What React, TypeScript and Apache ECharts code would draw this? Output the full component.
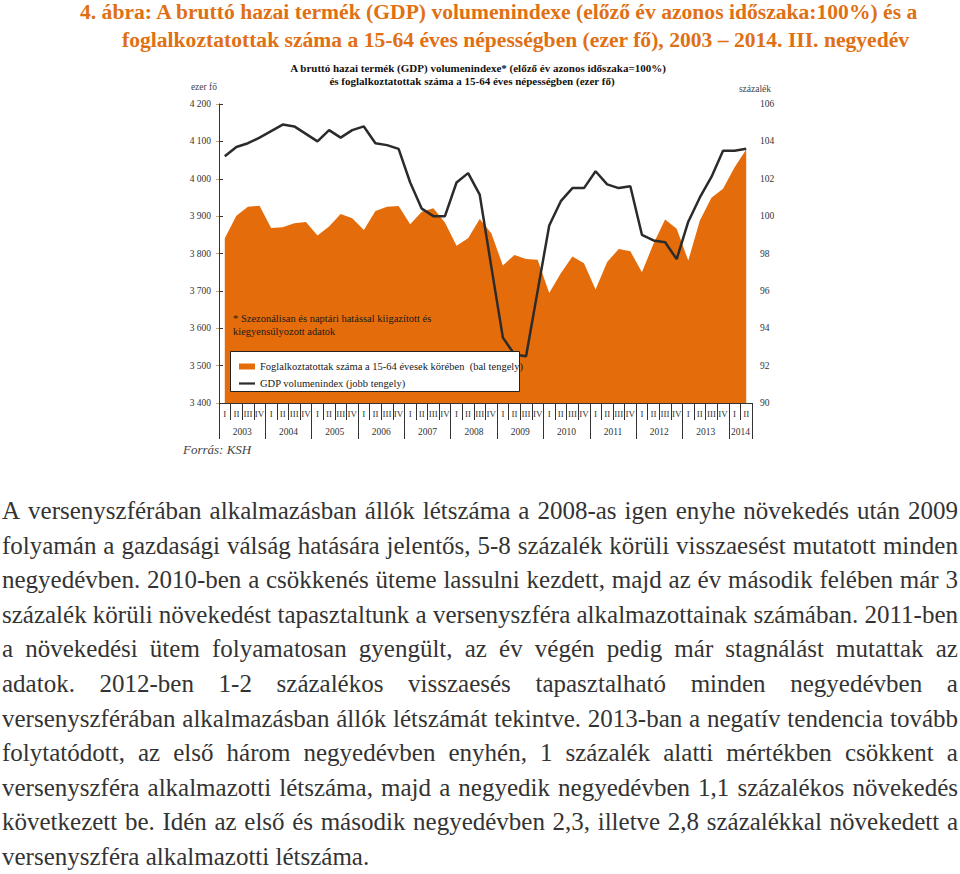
import React, { useEffect, useRef } from "react";
import * as echarts from "echarts";

document.body.style.margin = "0";

const years = ["2003", "2004", "2005", "2006", "2007", "2008", "2009", "2010", "2011", "2012", "2013", "2014"];
const quarterNames = ["I", "II", "III", "IV"];

// Foglalkoztatottak száma a 15-64 évesek körében (ezer fő), 2003 I – 2014 II
const employment = [
  3841, 3901, 3925, 3928,
  3868, 3870, 3881, 3884,
  3848, 3872, 3906, 3894,
  3863, 3914, 3925, 3927,
  3878, 3912, 3921, 3883,
  3821, 3841, 3892, 3854,
  3768, 3796, 3785, 3783,
  3694, 3747, 3792, 3774,
  3704, 3777, 3812, 3806,
  3750, 3826, 3891, 3866,
  3781, 3888, 3949, 3973,
  4031, 4078,
];

// GDP volumenindex (előző év azonos időszaka = 100%)
const gdp = [
  103.2, 103.7, 103.9, 104.2,
  104.55, 104.9, 104.8, 104.4,
  104.0, 104.6, 104.2, 104.6,
  104.8, 103.9, 103.8, 103.6,
  101.8, 100.4, 100.0, 100.0,
  101.8, 102.3, 101.15, 97.3,
  93.5, 92.6, 92.5, 96.0,
  99.5, 100.8, 101.5, 101.5,
  102.4, 101.7, 101.5, 101.6,
  99.0, 98.7, 98.6, 97.7,
  99.7, 101.0, 102.1, 103.5,
  103.5, 103.6,
];

const leftAxisRange = [3400, 4200, 100];
const rightAxisRange = [90, 106, 2];
const leftAxisName = "ezer fő";
const rightAxisName = "százalék";

const titleLines = [
  "4. ábra: A bruttó hazai termék (GDP) volumenindexe (előző év azonos időszaka:100%) és a",
  "foglalkoztatottak száma a 15-64 éves népességben (ezer fő), 2003 – 2014. III. negyedév",
];
const chartTitleLines = [
  "A bruttó hazai termék (GDP) volumenindexe* (előző év azonos időszaka=100%)",
  "és foglalkoztatottak száma a 15-64 éves népességben (ezer fő)",
];
const footnoteLines = [
  "* Szezonálisan és naptári hatással kiigazított és",
  "kiegyensúlyozott adatok",
];
const empName = "Foglalkoztatottak száma a 15-64 évesek körében  (bal tengely)";
const gdpName = "GDP volumenindex (jobb tengely)";
const sourceText = "Forrás: KSH";

const paragraphLines = [
  "A versenyszférában alkalmazásban állók létszáma a 2008-as igen enyhe növekedés után 2009",
  "folyamán a gazdasági válság hatására jelentős, 5-8 százalék körüli visszaesést mutatott minden",
  "negyedévben. 2010-ben a csökkenés üteme lassulni kezdett, majd az év második felében már 3",
  "százalék körüli növekedést tapasztaltunk a versenyszféra alkalmazottainak számában. 2011-ben",
  "a növekedési ütem folyamatosan gyengült, az év végén pedig már stagnálást mutattak az",
  "adatok. 2012-ben 1-2 százalékos visszaesés tapasztalható minden negyedévben a",
  "versenyszférában alkalmazásban állók létszámát tekintve. 2013-ban a negatív tendencia tovább",
  "folytatódott, az első három negyedévben enyhén, 1 százalék alatti mértékben csökkent a",
  "versenyszféra alkalmazotti létszáma, majd a negyedik negyedévben 1,1 százalékos növekedés",
  "következett be. Idén az első és második negyedévben 2,3, illetve 2,8 százalékkal növekedett a",
  "versenyszféra alkalmazotti létszáma.",
];

const ORANGE = "#E46C0A";
const TITLE_ORANGE = "#E07014";
const LINE = "#2b2b2b";
const SERIF = '"Liberation Serif", "Times New Roman", serif';

const n = employment.length;
const categories = Array.from({ length: n }, (_, i) => `${years[Math.floor(i / 4)]} ${quarterNames[i % 4]}`);
const quarterOfCat = (c: string) => c.split(" ")[1];
// centre of each year's span in quarter units
const yearCenters: Record<number, string> = {};
years.forEach((y, k) => {
  const count = Math.min(4, n - 4 * k);
  if (count > 0) yearCenters[4 * k + count / 2] = y;
});

const CHART_H = 464;

function App() {
  const ref = useRef<HTMLDivElement>(null);

  useEffect(() => {
    if (!ref.current) return;
    const chart = echarts.init(ref.current, null, { renderer: "svg" });
    const axisFont = { fontFamily: SERIF, fontSize: 9.5, color: "#333" };
    const txt = (x: number, y: number, text: string, extra: any) => ({
      type: "text",
      x,
      y,
      z: 10,
      style: { text, fontFamily: SERIF, align: "left", verticalAlign: "middle", ...extra },
    });
    chart.setOption({
      animation: false,
      grid: { left: 219, right: 208, top: 104, bottom: CHART_H - 403 },
      legend: {
        left: 234,
        top: 356,
        orient: "vertical",
        itemWidth: 16,
        itemHeight: 6,
        itemGap: 6,
        selectedMode: false,
        textStyle: { fontFamily: SERIF, fontSize: 10.5, color: "#1a1a1a" },
        data: [
          { name: empName, icon: "rect" },
          { name: gdpName, icon: "path://M0,0H16V2.2H0Z" },
        ],
        z: 6,
      },
      xAxis: [
        {
          type: "category",
          data: categories,
          boundaryGap: true,
          position: "bottom",
          axisLine: { show: true, lineStyle: { color: "#333", width: 1 } },
          axisTick: { show: true, interval: 0, length: 17, lineStyle: { color: "#333" } },
          axisLabel: {
            interval: 0,
            margin: 6,
            ...axisFont,
            fontSize: 9,
            formatter: (v: string) => quarterOfCat(v),
          },
          splitLine: { show: false },
        },
        {
          type: "value",
          min: 0,
          max: n,
          interval: 4,
          position: "bottom",
          axisLine: { show: false },
          axisTick: { show: true, length: 36, lineStyle: { color: "#333" } },
          axisLabel: { show: false },
          splitLine: { show: false },
        },
        {
          type: "value",
          min: 0,
          max: n,
          interval: 1,
          position: "bottom",
          axisLine: { show: false },
          axisTick: { show: false },
          axisLabel: {
            show: true,
            margin: 24,
            ...axisFont,
            fontSize: 9.5,
            formatter: (v: number) => yearCenters[v] ?? "",
          },
          splitLine: { show: false },
        },
      ],
      yAxis: [
        {
          type: "value",
          min: leftAxisRange[0],
          max: leftAxisRange[1],
          interval: leftAxisRange[2],
          position: "left",
          axisLine: { show: true, lineStyle: { color: "#d9a066", width: 1 } },
          axisTick: { show: true, length: 3, lineStyle: { color: "#d9a066" } },
          axisLabel: {
            margin: 8,
            ...axisFont,
            formatter: (v: number) => String(v).replace(/\B(?=(\d{3})+(?!\d))/g, " "),
          },
          splitLine: { show: false },
        },
        {
          type: "value",
          min: rightAxisRange[0],
          max: rightAxisRange[1],
          interval: rightAxisRange[2],
          position: "right",
          axisLine: { show: true, lineStyle: { color: "#333", width: 1 } },
          axisTick: { show: true, length: 4, lineStyle: { color: "#333" } },
          axisLabel: { margin: 8, ...axisFont },
          splitLine: { show: false },
        },
      ],
      series: [
        {
          name: empName,
          type: "line",
          xAxisIndex: 0,
          yAxisIndex: 0,
          data: employment,
          symbol: "none",
          color: ORANGE,
          itemStyle: { color: ORANGE },
          lineStyle: { width: 0, color: ORANGE },
          areaStyle: { color: ORANGE, opacity: 1, origin: "start" },
          z: 2,
        },
        {
          name: gdpName,
          type: "line",
          xAxisIndex: 0,
          yAxisIndex: 1,
          data: gdp,
          symbol: "none",
          color: LINE,
          itemStyle: { color: LINE },
          lineStyle: { width: 2.5, color: LINE },
          z: 2,
        },
      ],
      graphic: [
        txt(80, 12, titleLines[0], { fontSize: 21.6, fontWeight: "bold", fill: TITLE_ORANGE }),
        txt(122, 40, titleLines[1], { fontSize: 21.6, fontWeight: "bold", fill: TITLE_ORANGE }),
        txt(478, 68, chartTitleLines[0], { fontSize: 11, fontWeight: "bold", fill: "#111", align: "center" }),
        txt(472, 81, chartTitleLines[1], { fontSize: 11, fontWeight: "bold", fill: "#111", align: "center" }),
        txt(217, 87, leftAxisName, { fontSize: 9.5, fill: "#444", align: "right" }),
        txt(755, 89, rightAxisName, { fontSize: 9.5, fill: "#444", align: "center" }),
        {
          type: "rect",
          z: 5,
          shape: { x: 230.5, y: 351.5, width: 289, height: 40 },
          style: { fill: "#fff", stroke: "#222", lineWidth: 1 },
        },
        txt(233, 318, footnoteLines[0], { fontSize: 10.5, fill: "#1a1a1a" }),
        txt(233, 331, footnoteLines[1], { fontSize: 10.5, fill: "#1a1a1a" }),
        txt(183, 443, sourceText, { fontSize: 13, fontStyle: "italic", fill: "#444", verticalAlign: "top" }),
      ],
    });
    return () => chart.dispose();
  }, []);

  const last = paragraphLines.length - 1;
  return (
    <div style={{ position: "relative", width: 960, height: 874, overflow: "hidden", background: "#fff" }}>
      <div ref={ref} style={{ position: "absolute", left: 0, top: 0, width: 960, height: CHART_H }} />
      <div
        style={{
          position: "absolute",
          left: 2,
          top: 494,
          width: 956,
          fontFamily: SERIF,
          fontSize: 25,
          lineHeight: "34.6px",
          color: "#333",
        }}
      >
        {paragraphLines.map((line, i) =>
          i < last ? (
            <div key={i} style={{ display: "flex", justifyContent: "space-between", whiteSpace: "nowrap", height: "34.6px" }}>
              {line.split(" ").map((w, j) => (
                <span key={j}>{w}</span>
              ))}
            </div>
          ) : (
            <div key={i} style={{ whiteSpace: "nowrap", height: "34.6px" }}>
              {line}
            </div>
          )
        )}
      </div>
    </div>
  );
}

export default App;
